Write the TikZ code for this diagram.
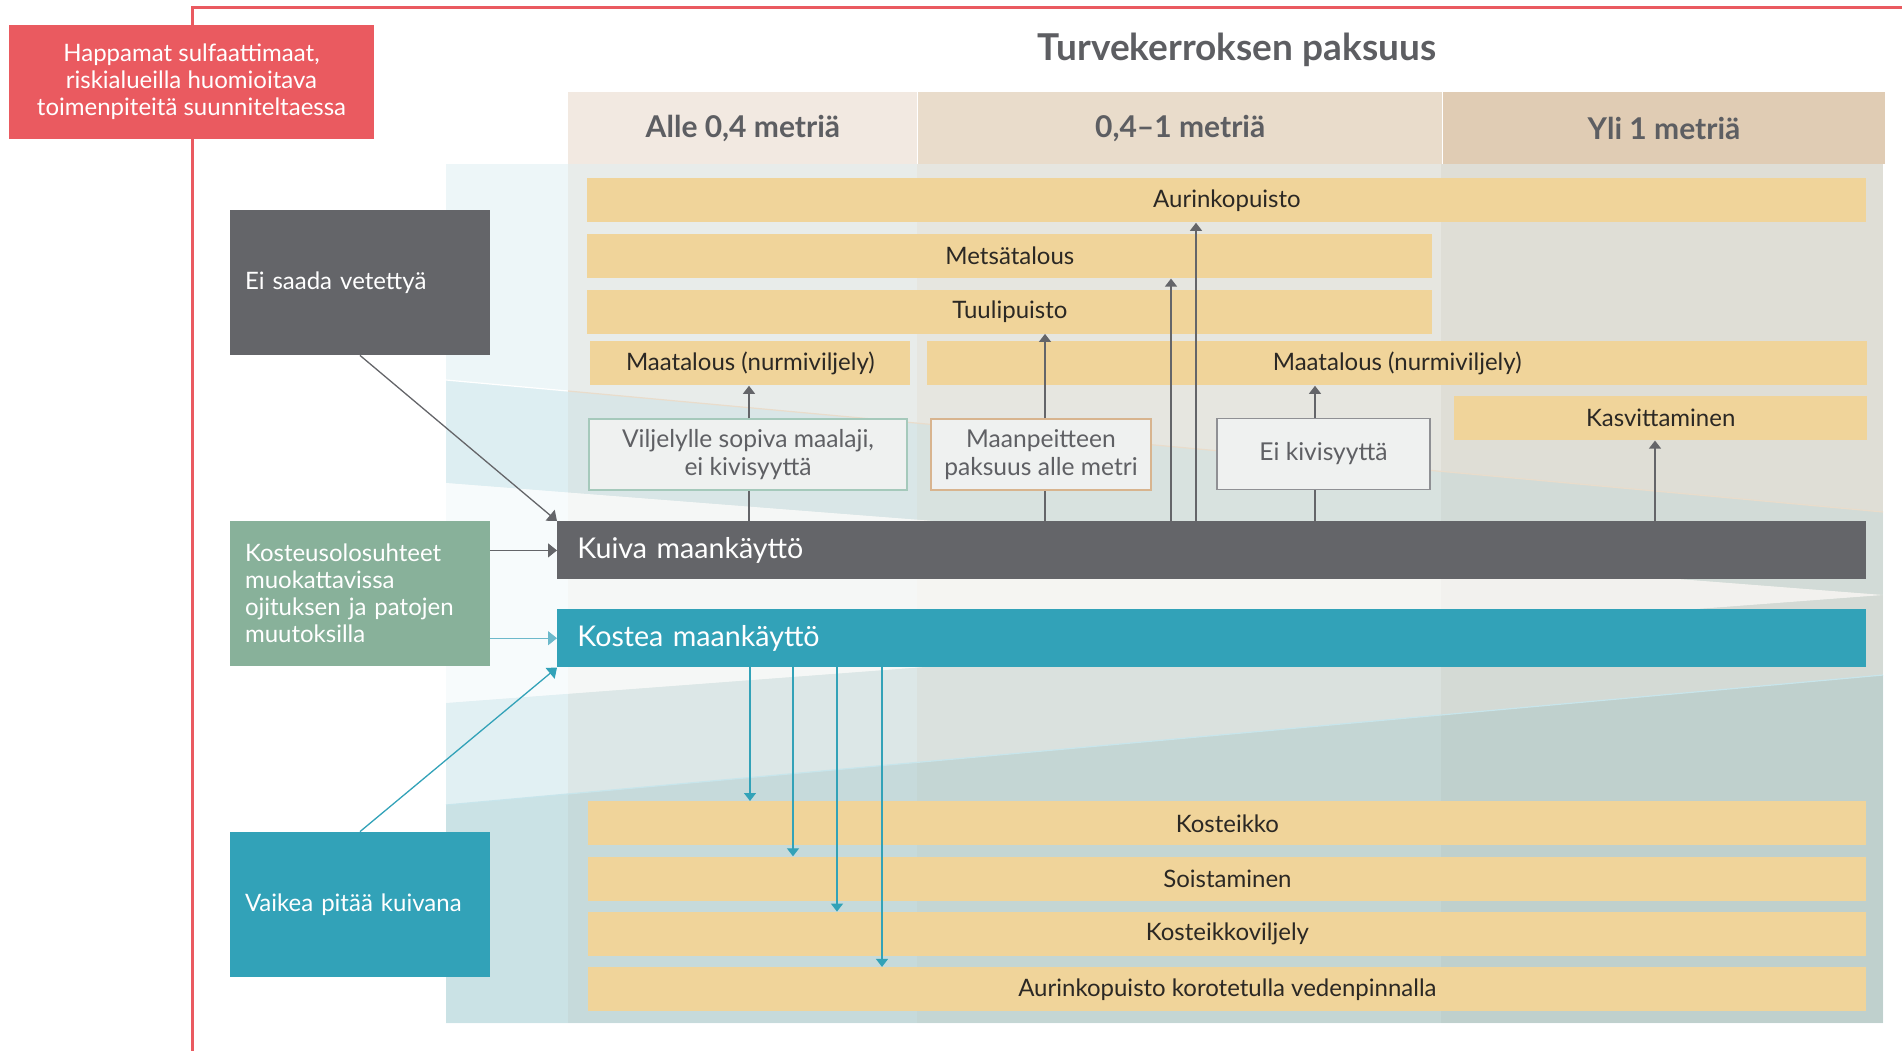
\documentclass[tikz,border=0pt]{standalone}
\usepackage{fontspec}
\setmainfont{Lato}
\usepackage{tikz}
\usetikzlibrary{arrows.meta}
\usetikzlibrary{positioning}
\definecolor{redc}{HTML}{EA5A60}
\definecolor{greyc}{HTML}{646569}
\definecolor{tealc}{HTML}{32A2B8}
\definecolor{teall}{HTML}{6DB9CB}
\definecolor{greenc}{HTML}{88B19A}
\definecolor{barc}{HTML}{F0D49A}
\definecolor{bartxt}{HTML}{2B2824}
\definecolor{condc}{HTML}{EFF1F0}
\definecolor{condtxt}{HTML}{5F6064}
\definecolor{condgr}{HTML}{A5C9BB}
\definecolor{condor}{HTML}{D8B48E}
\definecolor{condgy}{HTML}{8F9094}
\definecolor{hdA}{HTML}{F2E9E1}
\definecolor{hdB}{HTML}{E9DCCB}
\definecolor{hdC}{HTML}{E0CCB4}
\definecolor{hdtxt}{HTML}{5D5E62}
\definecolor{bgS}{HTML}{EDF6F8}
\definecolor{bgA}{HTML}{E8ECEA}
\definecolor{bgB}{HTML}{E6E6E0}
\definecolor{bgC}{HTML}{DFDED6}
\definecolor{dryc}{RGB}{160,210,220}
\definecolor{wetc}{RGB}{120,190,205}
\definecolor{wetd}{RGB}{110,170,175}
\tikzstyle{Ahead}=[anchor=north west,minimum height=36pt,inner sep=0pt,text=hdtxt,font=\bfseries\fontsize{15}{17}\selectfont]
\tikzstyle{Abar}=[fill=barc,text=bartxt,anchor=north west,minimum height=22pt,inner sep=0pt,font=\fontsize{12}{14}\selectfont]
\tikzstyle{Acond}=[draw,fill=condc,text=condtxt,line width=0.6pt,minimum height=35.5pt,inner sep=0pt,align=center,font=\fontsize{12.3}{14}\selectfont]
\tikzstyle{Asrc}=[text=white,minimum height=72.5pt,text width=115pt,inner xsep=7.5pt,align=left,font=\fontsize{12}{13.5}\selectfont]
\tikzstyle{Aland}=[text=white,anchor=north west,minimum height=29pt,text width=634.5pt,inner xsep=10pt,align=left,font=\fontsize{14.3}{16}\selectfont]
\tikzstyle{Ared}=[fill=redc,text=white,minimum width=182.5pt,minimum height=57pt,inner sep=0pt,align=center,font=\fontsize{12}{13.5}\selectfont]
\tikzstyle{aUp}=[every edge/.style={draw=greyc,line width=0.65pt,-{Triangle[length=4pt,width=6pt]}}]
\tikzstyle{aLn}=[every edge/.style={draw=greyc,line width=0.65pt,-}]
\tikzstyle{aDown}=[every edge/.style={draw=tealc,line width=0.65pt,-{Triangle[length=4pt,width=6pt]}}]
\tikzstyle{aIn}=[every edge/.style={draw,line width=0.65pt,-{Triangle[length=4.5pt,width=7pt]}}]

\begin{document}
\begin{tikzpicture}[x=0.5pt,y=-0.5pt]
\useasboundingbox (0,0) rectangle (1902,1051);

% columns
\fill[bgS] (446,164) rectangle (568,1023);
\fill[bgA] (568,164) rectangle (917,1023);
\fill[bgB] (917,164) rectangle (1441,1023);
\fill[bgC] (1441,164) rectangle (1883,1023);
% dry / wet zones
\fill[dryc,fill opacity=0.2] (446,380) -- (1883,512) -- (1883,595) -- (446,483) -- cycle;
\fill[white,fill opacity=0.6] (446,483) -- (1883,595) -- (446,703) -- cycle;
\fill[wetc,fill opacity=0.1] (446,703) -- (1883,595) -- (1883,1023) -- (446,1023) -- cycle;
\fill[wetd,fill opacity=0.2] (446,805) -- (1883,675) -- (1883,1023) -- (446,1023) -- cycle;
\draw[white,line width=0.6pt] (446,380) -- (568,391);
\draw[hdB,line width=0.6pt] (568,391) -- (1883,512);
\draw[bgS!80!tealc,line width=0.6pt] (446,805) -- (1883,675);

% frame
\draw[redc,line width=1.5pt] (1902,7) -- (192,7) -- (192,1051);
\node[Ared] (sulf) at (191.5,82) {Happamat sulfaattimaat,\\riskialueilla huomioitava\\toimenpiteitä suunniteltaessa};

\node[text=hdtxt,font=\bfseries\fontsize{18.5}{20}\selectfont] (title) at (1237,50) {Turvekerroksen paksuus};
\node[Ahead,fill=hdA,minimum width=174.5pt] (h1) at (568,92) {Alle 0,4 metriä};
\node[Ahead,fill=hdB,minimum width=262pt,right=0pt of h1] (h2) {0,4–1 metriä};
\node[Ahead,fill=hdC,minimum width=221pt,right=0pt of h2] (h3) {Yli 1 metriä};

% dry land use
\node[Abar,minimum width=639.5pt] (aur) at (587,178) {Aurinkopuisto};
\node[Abar,minimum width=422.5pt,below=5.5pt of aur.south west,anchor=north west] (mets) {Metsätalous};
\node[Abar,minimum width=422.5pt,below=5.25pt of mets.south west,anchor=north west] (tuuli) {Tuulipuisto};
\node[Abar,minimum width=160pt] (maal1) at (590,341) {Maatalous (nurmiviljely)};
\node[Abar,minimum width=470pt,right=8pt of maal1.north east,anchor=north west] (maal2) {Maatalous (nurmiviljely)};
\node[Abar,minimum width=206.5pt,below=5pt of maal2.south east,anchor=north east] (kasv) {Kasvittaminen};

\node[Acond,draw=condgr,minimum width=159pt] (vilj) at (748,454.5) {Viljelylle sopiva maalaji,\\ei kivisyyttä};
\node[Acond,draw=condor,minimum width=110pt] (maanp) at (1041,454.5) {Maanpeitteen\\paksuus alle metri};
\node[Acond,draw=condgy,minimum width=106.5pt] (eikivi) at (1323.5,454) {Ei kivisyyttä};

\node[Aland,fill=greyc] (kuiva) at (557,521) {Kuiva maankäyttö};
\node[Aland,fill=tealc,below=14.5pt of kuiva.south west,anchor=north west] (kostea) {Kostea maankäyttö};

% wet land use
\node[Abar,minimum width=639pt] (kost1) at (588,801) {Kosteikko};
\node[Abar,minimum width=639pt,below=5.25pt of kost1.south west,anchor=north west] (kost2) {Soistaminen};
\node[Abar,minimum width=639pt,below=5.25pt of kost2.south west,anchor=north west] (kost3) {Kosteikkoviljely};
\node[Abar,minimum width=639pt,below=5.25pt of kost3.south west,anchor=north west] (kost4) {Aurinkopuisto korotetulla vedenpinnalla};

% sources
\node[Asrc,fill=greyc] (eisaada) at (360,282.5) {Ei saada vetettyä};
\node[Asrc,fill=greenc] (muok) at (360,593.5) {Kosteusolosuhteet\\muokattavissa\\ojituksen ja patojen\\muutoksilla};
\node[Asrc,fill=tealc] (vaikea) at (360,904.5) {Vaikea pitää kuivana};

\coordinate (pv) at (749,521);
\coordinate (pt) at (1045,521);
\coordinate (pm) at (1171,521);
\coordinate (pa) at (1196,521);
\coordinate (pk) at (1315,521);
\coordinate (pc) at (1655,521);
\coordinate (w1) at (750,666);
\coordinate (w2) at (793,666);
\coordinate (w3) at (837,666);
\coordinate (w4) at (882,666);

\path[aLn]
 (pv) edge (pv |- vilj.south)
 (pt) edge (pt |- maanp.south)
 (pk) edge (pk |- eikivi.south)
;
\path[aUp]
 (pv |- vilj.north) edge (pv |- maal1.south)
 (pt |- maanp.north) edge (pt |- tuuli.south)
 (pk |- eikivi.north) edge (pk |- maal2.south)
 (pm) edge (pm |- mets.south)
 (pa) edge (pa |- aur.south)
 (pc) edge (pc |- kasv.south)
;
\path[aDown]
 (w1) edge (w1 |- kost1.north)
 (w2) edge (w2 |- kost2.north)
 (w3) edge (w3 |- kost3.north)
 (w4) edge (w4 |- kost4.north)
;
\path[aIn]
 (eisaada.south) edge[greyc] (kuiva.north west)
 (muok.east |- kuiva.west) edge[greyc] (kuiva.west)
 (muok.east |- kostea.west) edge[teall] (kostea.west)
 (vaikea.north) edge[tealc] (kostea.south west)
;
\end{tikzpicture}
\end{document}
